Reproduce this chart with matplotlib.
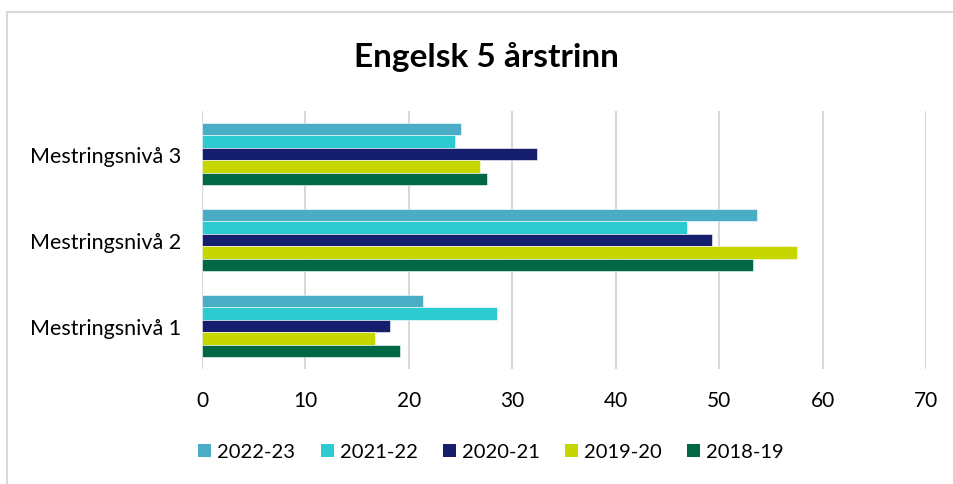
import matplotlib
matplotlib.use("Agg")
import matplotlib.pyplot as plt
import numpy as np
from matplotlib.lines import Line2D
from matplotlib.patches import Patch

plt.rcParams['font.family'] = ['Lato', 'DejaVu Sans']

categories = ["Mestringsnivå 1", "Mestringsnivå 2", "Mestringsnivå 3"]
series = ["2022-23", "2021-22", "2020-21", "2019-20", "2018-19"]
v_2022_23 = [21.4, 53.7, 25.0]
v_2021_22 = [28.5, 46.9, 24.5]
v_2020_21 = [18.2, 49.3, 32.4]
v_2019_20 = [16.7, 57.5, 26.9]
v_2018_19 = [19.1, 53.3, 27.6]
values = [v_2022_23, v_2021_22, v_2020_21, v_2019_20, v_2018_19]
colors = ["#4BACC6", "#2ECAD2", "#161E6E", "#C5D600", "#006845"]
xticks = [0, 10, 20, 30, 40, 50, 60, 70]

W, H = 954, 485
fig = plt.figure(figsize=(W / 100, H / 100), dpi=100)
ax = fig.add_axes([202 / W, 1 - 370 / H, (926 - 202) / W, (370 - 112) / H])

n = len(series)
group_h = 0.72
bh = group_h / n
y = np.arange(len(categories))
for i, (s, vals, c) in enumerate(zip(series, values, colors)):
    offs = group_h / 2 - bh / 2 - i * bh
    ax.barh(y + offs, vals, height=bh, color=c, edgecolor="white", linewidth=0.4,
            label=s, zorder=3)

ax.set_xlim(0, 70)
ax.set_ylim(-0.5, len(categories) - 0.5)
ax.set_xticks(xticks)
ax.set_xticklabels([str(t) for t in xticks], fontsize=15)
ax.set_yticks(y)
ax.set_yticklabels(categories, fontsize=15.5)
ax.tick_params(axis='both', length=0, colors="#000000")
ax.tick_params(axis='x', pad=15)
ax.tick_params(axis='y', pad=15)
ax.grid(axis='x', color="#D9D9D9", linewidth=1.5, zorder=0)
for sp in ax.spines.values():
    sp.set_visible(False)

fig.text(486 / W, 1 - 57 / H, "Engelsk 5 årstrinn", ha='center', va='center',
         fontsize=24, fontweight='bold')

handles = [Patch(facecolor=c, edgecolor='none', label=s) for s, c in zip(series, colors)]
fig.legend(handles=handles, loc='center', bbox_to_anchor=(491 / W, 1 - 453 / H),
           ncol=5, frameon=False, fontsize=14.5, handlelength=0.65, handleheight=0.65,
           handletextpad=0.3, columnspacing=1.25)

# chart border (top and left visible)
fig.add_artist(Line2D([7 / W, 1], [1 - 13 / H, 1 - 13 / H], color="#D9D9D9", linewidth=1.5,
                      transform=fig.transFigure))
fig.add_artist(Line2D([7 / W, 7 / W], [0, 1 - 13 / H], color="#D9D9D9", linewidth=1.5,
                      transform=fig.transFigure))

fig.savefig("out.png", dpi=100, facecolor="white")
